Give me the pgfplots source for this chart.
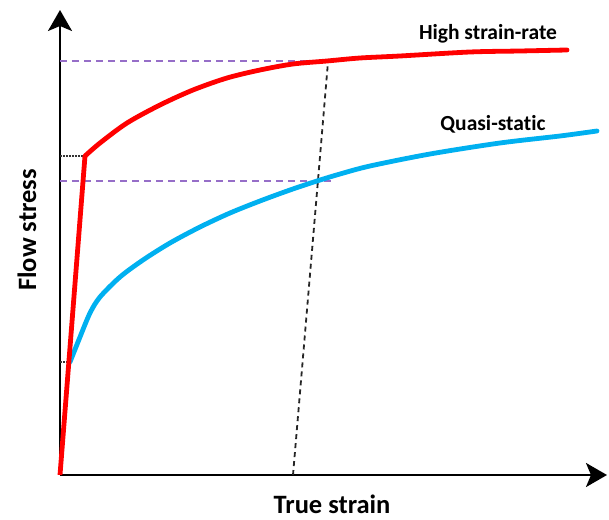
\documentclass[border=0pt]{standalone}
\usepackage{fontspec}
\setmainfont{Carlito}[Ligatures=NoCommon]
\usepackage{pgfplots}
\pgfplotsset{compat=1.18}
\usetikzlibrary{arrows.meta}
\definecolor{hsr}{RGB}{255,0,0}
\definecolor{qs}{RGB}{0,176,240}
\definecolor{guide}{RGB}{150,110,200}
\begin{document}
\begin{tikzpicture}
\begin{axis}[
  x=1pt, y=1pt,
  xmin=0, xmax=547, ymin=0, ymax=465,
  axis lines=left,
  axis line style={line width=2.4pt, -{Stealth[length=21pt,width=24pt,inset=5pt]}},
  xtick=\empty, ytick=\empty,
  clip=false,
]
% page extent
\path (axis cs:-60,-44) rectangle (axis cs:549,475);

% guide lines
\addplot[guide, line width=2pt, dash pattern=on 7pt off 5pt] coordinates {(0,414) (270,414)};
\addplot[guide, line width=2pt, dash pattern=on 7pt off 5pt] coordinates {(0,294) (273,294)};
\addplot[black!80, line width=1.2pt, dash pattern=on 2pt off 1pt] coordinates {(0,319) (25,319)};
\addplot[black!80, line width=1.2pt, dash pattern=on 2pt off 1pt] coordinates {(0,113) (10,113)};
\addplot[black!85, line width=1.8pt, dash pattern=on 5pt off 4pt] coordinates {(233,0) (268,413)};

% quasi-static curve
\addplot[qs, line width=4.8pt, smooth, line cap=round] coordinates {
 (10,113) (20,138) (30,162) (40,178) (60,198) (83,215) (110,232) (140,248)
 (170,262) (200,274) (230,285) (257,294) (280,301) (310,309) (370,321)
 (440,332) (500,339) (537,344)};

% high strain-rate curve
\addplot[hsr, line width=4.8pt, line join=round] coordinates {(0,0) (25,319)};
\addplot[hsr, line width=4.8pt, smooth, line cap=round] coordinates {
 (25,319) (40,332) (67,352) (100,370) (133,385) (167,397) (200,405) (233,411)
 (267,414) (300,417) (340,419) (410,423) (460,424) (507,425)};

% labels
\node[font=\fontsize{21.5}{26}\selectfont\bfseries, anchor=base] at (axis cs:428,435) {High strain-rate};
\node[font=\fontsize{21.5}{26}\selectfont\bfseries, anchor=base] at (axis cs:433,344) {Quasi-static};
\node[font=\fontsize{26.5}{30}\selectfont\bfseries, anchor=base] at (axis cs:272,-38) {True strain};
\node[font=\fontsize{26.5}{30}\selectfont\bfseries, rotate=90] at (axis cs:-33,245) {Flow stress};
\end{axis}
\end{tikzpicture}
\end{document}
